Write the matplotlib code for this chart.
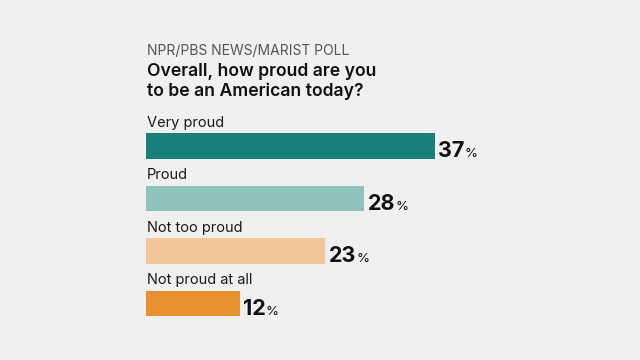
import matplotlib.pyplot as plt
import numpy as np

# data
categories = ['Very proud', 'Proud', 'Not too proud', 'Not proud at all']
values = [37, 28, 23, 12]
colors = ['#197f7a', '#8fc1be', '#f2c699', '#e6912d']

source = 'NPR/PBS NEWS/MARIST POLL'
title = 'Overall, how proud are you\nto be an American today?'

BG = '#f0f0f0'
FONT = ['Inter', 'DejaVu Sans']

plt.rcParams['font.family'] = FONT

fig = plt.figure(figsize=(6.4, 3.6), dpi=100, facecolor=BG)

# axes in pixel terms: left 146px, top 120px, bottom 330px
W, H = 640, 360
ax = fig.add_axes([146 / W, 1 - 330 / H, 312 / W, 210 / H])
ax.set_facecolor(BG)

y = np.arange(len(categories))
bar_h = 0.486
ax.barh(y, values, height=bar_h, color=colors, edgecolor='none')

ax.set_xlim(0, 40)
ax.set_ylim(3.505, -0.495)
ax.axis('off')

for i, (cat, v) in enumerate(zip(categories, values)):
    # category label above the bar
    ax.annotate(cat, xy=(0, i - bar_h / 2), xytext=(0.5, 2.5),
                textcoords='offset points', ha='left', va='bottom',
                fontsize=10.5, color='#1a1a1a')
    # value label
    num = ax.annotate(str(v), xy=(v, i + 0.21), xytext=(2.5, 0),
                      textcoords='offset points', ha='left', va='baseline',
                      fontsize=15.5, fontweight='bold', color='#111111')
    ax.annotate('%', xy=(1, i + 0.21), xycoords=(num, 'data'),
                xytext=(0, 0), textcoords='offset points',
                ha='left', va='baseline', fontsize=9.5, color='#111111')

# header texts
fig.text(147 / W, 1 - 55 / H, source, ha='left', va='baseline',
         fontsize=10, color='#555555')
fig.text(147 / W, 1 - 96.5 / H, title, ha='left', va='baseline',
         fontsize=12.7, fontweight='semibold', color='#111111',
         linespacing=1.2)

fig.savefig('out.png', dpi=100, facecolor=BG)
